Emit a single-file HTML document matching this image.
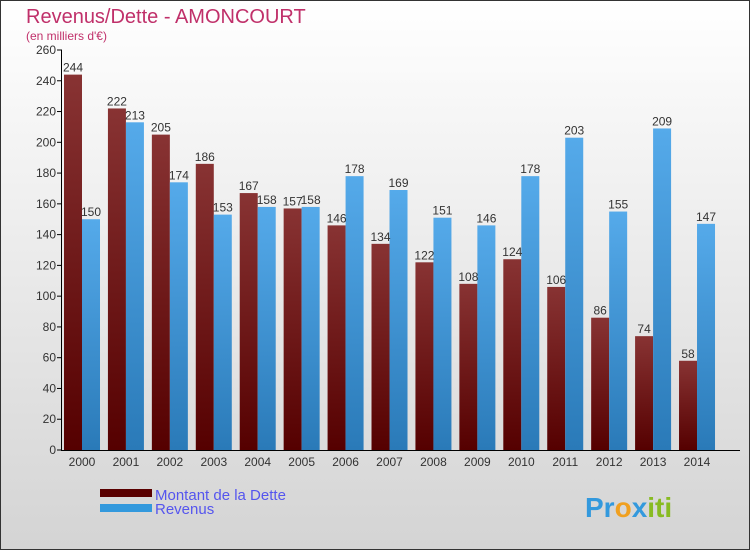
<!DOCTYPE html>
<html><head><meta charset="utf-8"><style>
body{margin:0}
#wrap{width:750px;height:550px;position:relative;overflow:hidden;font-family:"Liberation Sans",sans-serif}
</style></head><body>
<div id="wrap">
<svg id="svg" width="750" height="550" xmlns="http://www.w3.org/2000/svg">
<defs>
<linearGradient id="bg" x1="0" y1="0" x2="0" y2="1"><stop offset="0" stop-color="#ffffff"/><stop offset="1" stop-color="#d4d4d4"/></linearGradient>
<linearGradient id="gd" x1="0" y1="0" x2="0" y2="1"><stop offset="0" stop-color="#883333"/><stop offset="1" stop-color="#550000"/></linearGradient>
<linearGradient id="gr" x1="0" y1="0" x2="0" y2="1"><stop offset="0" stop-color="#55aaea"/><stop offset="1" stop-color="#2a7ab8"/></linearGradient>
</defs>
<rect x="0.5" y="0.5" width="749" height="549" fill="url(#bg)" stroke="#333"/>
<text x="26" y="23" font-size="20" fill="#c0306a">Revenus/Dette - AMONCOURT</text>
<text x="26" y="40" font-size="12" fill="#c0306a">(en milliers d'€)</text>
<g id="plot"></g>
<rect x="100" y="489" width="52" height="8" fill="#5a0000"/>
<rect x="100" y="504" width="52" height="8" fill="#3399dd"/>
<text x="155" y="500" font-size="15" fill="#5555ee">Montant de la Dette</text>
<text x="155" y="514" font-size="15" fill="#5555ee">Revenus</text>
<text x="585" y="517" font-size="28" font-weight="bold"><tspan fill="#3399dd">Pr</tspan><tspan fill="#f0a020">o</tspan><tspan fill="#3399dd">x</tspan><tspan fill="#88bb22">iti</tspan></text>
</svg>
</div>
<script>
const years=["2000","2001","2002","2003","2004","2005","2006","2007","2008","2009","2010","2011","2012","2013","2014"];
const dette=[244,222,205,186,167,157,146,134,122,108,124,106,86,74,58];
const revenus=[150,213,174,153,158,158,178,169,151,146,178,203,155,209,147];
const ticks=[0,20,40,60,80,100,120,140,160,180,200,220,240,260];
const NS="http://www.w3.org/2000/svg";
const g=document.getElementById("plot");
const y=v=>450-v*400/260;
const x0=i=>64+i*43.93;
const bw=18;
function el(t,a,txt){const e=document.createElementNS(NS,t);for(const k in a)e.setAttribute(k,a[k]);if(txt!==undefined)e.textContent=txt;g.appendChild(e);return e;}
ticks.forEach(t=>{
 const tk=el("line",{x1:57,x2:62,y1:y(t),y2:y(t),stroke:"#000"});
 
 
 const lb=el("text",{x:56,y:y(t)+4,"font-size":12,"text-anchor":"end",fill:"#333"},t);
 
 
});
years.forEach((yr,i)=>{
 const xd=x0(i);
 const b1=el("rect",{x:xd,y:y(dette[i]),width:bw,height:450-y(dette[i]),fill:"url(#gd)"});
 
 
 const b2=el("rect",{x:xd+bw,y:y(revenus[i]),width:bw,height:450-y(revenus[i]),fill:"url(#gr)"});
 
 
 const t1=el("text",{x:xd+bw/2,y:y(dette[i])-3,"font-size":12,"text-anchor":"middle",fill:"#333"},dette[i]);
 
 
 const t2=el("text",{x:xd+bw*1.5,y:y(revenus[i])-3,"font-size":12,"text-anchor":"middle",fill:"#333"},revenus[i]);
 
 
 const xl=el("text",{x:xd+bw,y:466,"font-size":12,"text-anchor":"middle",fill:"#333"},yr);
 
 
});
const ax=el("line",{x1:61.5,x2:61.5,y1:50,y2:450,stroke:"#000"});


const bx=el("line",{x1:61,x2:740,y1:450.5,y2:450.5,stroke:"#000"});


</script>
</body></html>
